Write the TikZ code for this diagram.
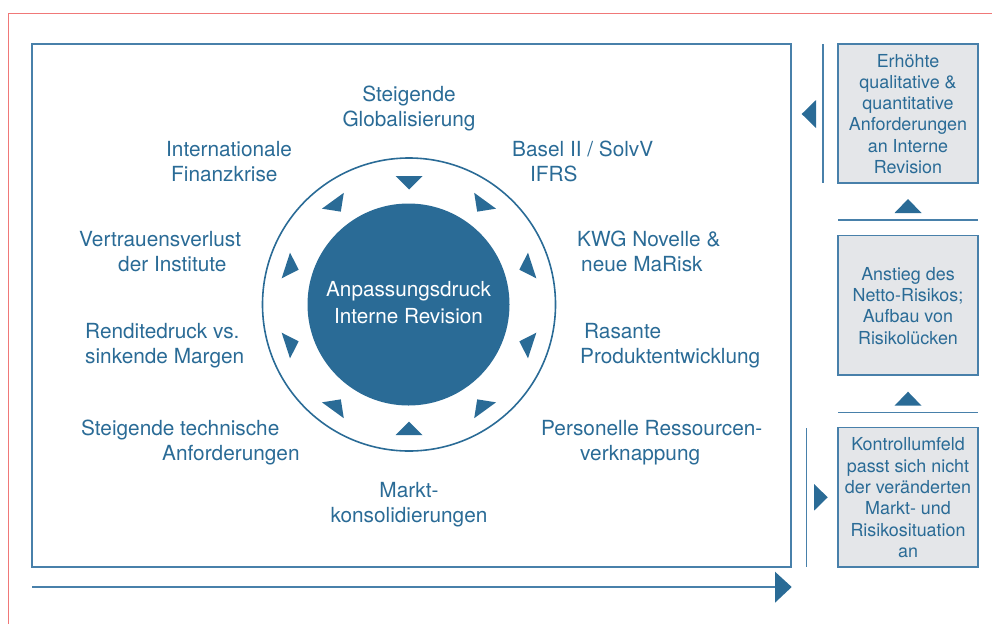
\documentclass[tikz,border=0pt]{standalone}
\usepackage{fontspec}
\setmainfont{TeX Gyre Heros}
\definecolor{myblue}{RGB}{42,107,150}
\definecolor{frameblue}{RGB}{72,128,170}
\definecolor{boxgrey}{RGB}{228,230,233}
\definecolor{redline}{RGB}{240,120,120}
\newcommand{\topgap}{\rule{0pt}{20pt}}
\begin{document}
\begin{tikzpicture}[x=1pt,y=-1pt,
  lbl/.style={text=myblue, font=\fontsize{20.8}{25}\selectfont, align=left, anchor=north west, inner sep=0pt},
  clbl/.style={lbl, align=center, anchor=north},
  rbox/.style={draw=frameblue, line width=1.4pt, fill=boxgrey, text=myblue,
    font=\fontsize{17.9}{21.3}\selectfont, align=center, inner sep=0pt,
    minimum width=140pt, minimum height=139pt},
  sep/.style={draw=frameblue, line width=1.3pt},
  tri/.style={fill=myblue}
]
\useasboundingbox (0,0) rectangle (992,624);
% red outer frame
\draw[redline, line width=1pt] (8.5,624) -- (8.5,13) -- (992,13);
% main frame
\draw[frameblue, line width=1.5pt] (32,44) rectangle (791,567);
% circles
\node[circle, draw=myblue, line width=1.6pt, minimum size=293pt, inner sep=0pt] (outer) at (409,304.5) {};
\node[circle, fill=myblue, text=white, minimum size=202pt, inner sep=0pt, align=center,
  font=\fontsize{20.7}{27.6}\selectfont] (core) at (408.5,304.5)
  {\strut Anpassungsdruck\\\strut Interne Revision};
% triangles around
\begin{scope}[shift={(409,305.5)}]
\foreach \a in {90,126,...,414}{
  \fill[tri, rotate=\a] (116,0) -- (129.5,13.5) -- (129.5,-13.5) -- cycle;
}
\end{scope}
% labels
\node[clbl] (glob) at (409,83.5) {\strut Steigende\\\strut Globalisierung};
\node[lbl] (intl) at (166,138.5) {\strut Internationale\\\hspace*{5pt}\strut Finanzkrise};
\node[lbl] (basel) at (512,138.5) {\strut Basel II / SolvV\\\hspace*{18pt}\strut IFRS};
\node[lbl] (vertr) at (79,228.5) {\strut Vertrauensverlust\\\hspace*{39pt}\strut der Institute};
\node[lbl] (kwg) at (577,228.5) {\strut KWG Novelle \&\\\hspace*{4pt}\strut neue MaRisk};
\node[lbl] (rendite) at (85,320.5) {\strut Renditedruck vs.\\\strut sinkende Margen};
\node[lbl] (rasante) at (580,320.5) {\hspace*{4pt}\strut Rasante\\\strut Produktentwicklung};
\node[lbl] (tech) at (81,417.5) {\strut Steigende technische\\\hspace*{81pt}\strut Anforderungen};
\node[lbl] (pers) at (541,417.5) {\strut Personelle Ressourcen-\\\hspace*{39pt}\strut verknappung};
\node[clbl, font=\fontsize{20.8}{24.5}\selectfont] (markt) at (409,480.5) {\strut Markt-\\\strut konsolidierungen};
% bottom arrow
\coordinate (bstart) at (32,587);
\coordinate (bend) at (776,587);
\draw[sep, line width=1.5pt] (bstart) -- (bend);
\fill[tri] (775,571.7) -- (791.7,587) -- (775,602.7) -- cycle;
% right column
\node[rbox] (req) at (908,113.5) {\topgap\strut Erhöhte\\\strut qualitative \&\\\strut quantitative\\\strut Anforderungen\\\strut an Interne\\\strut Revision};
\node[rbox, minimum height=139.3pt] (netto) at (908,305.3) {\topgap\strut Anstieg des\\\strut Netto-Risikos;\\\strut Aufbau von\\\strut Risikolücken};
\node[rbox, minimum height=139.3pt] (kontr) at (908,497.3) {\topgap\strut Kontrollumfeld\\\strut passt sich nicht\\\strut der veränderten\\\strut Markt- und\\\strut Risikosituation\\\strut an};
% separators and arrows in right column
\draw[sep] (823,44) -- (823,183);
\fill[tri] (801.7,114) -- (816,100) -- (816,128) -- cycle;
\fill[tri] (908,199) -- (921.5,213) -- (894.5,213) -- cycle;
\draw[sep] (838,220) -- (978,220);
\fill[tri] (908,391.7) -- (921.5,405.7) -- (894.5,405.7) -- cycle;
\draw[sep] (838,412.7) -- (978,412.7);
\draw[sep] (806.7,428) -- (806.7,567);
\fill[tri] (827.7,497.3) -- (814,484) -- (814,510.7) -- cycle;
\end{tikzpicture}
\end{document}
